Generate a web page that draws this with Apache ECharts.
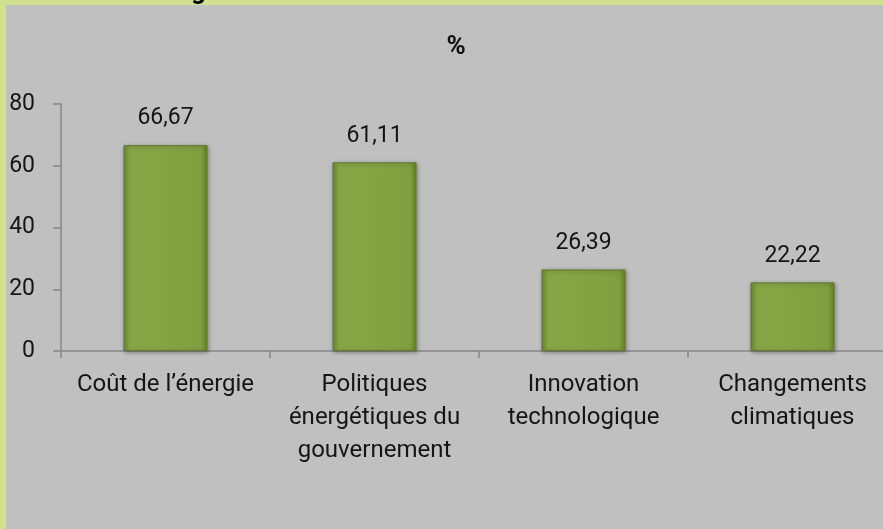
<!DOCTYPE html>
<html>
<head>
<meta charset="utf-8">
<script src="https://cdn.jsdelivr.net/npm/echarts@6/dist/echarts.min.js"></script>
<style>
html,body{margin:0;padding:0;background:#c0c0c0;}
#wrap{width:883px;height:529px;overflow:hidden;position:relative;}
#c{width:910px;height:529px;position:absolute;left:0;top:0;}
</style>
</head>
<body>
<div id="wrap"><div id="c"></div></div>
<script>
const categories = ["Coût de l’énergie", "Politiques\nénergétiques du\ngouvernement", "Innovation\ntechnologique", "Changements\nclimatiques"];
const values = [66.67, 61.11, 26.39, 22.22];
const yTicks = { min: 0, max: 80, interval: 20 };
const titleText = "%";

const FONT = "Roboto, 'Liberation Sans', sans-serif";
const chart = echarts.init(document.getElementById('c'), null, { renderer: 'canvas' });
chart.setOption({
  backgroundColor: '#c0c0c0',
  animation: false,
  title: {
    text: titleText,
    left: 451, top: 29, textAlign: 'center',
    textStyle: { fontFamily: FONT, fontSize: 26, fontWeight: 'bold', color: '#111' }
  },
  grid: { left: 61, top: 104, width: 836, height: 247, containLabel: false },
  xAxis: {
    type: 'category',
    data: categories,
    axisLine: { show: true, lineStyle: { color: '#878787', width: 1.5 } },
    axisTick: { show: true, length: 7, alignWithLabel: false, lineStyle: { color: '#878787', width: 1.5 } },
    axisLabel: {
      interval: 0, margin: 17, color: '#151515',
      fontFamily: FONT, fontSize: 24, lineHeight: 33, align: 'center'
    }
  },
  yAxis: {
    type: 'value',
    min: yTicks.min, max: yTicks.max, interval: yTicks.interval,
    axisLine: { show: true, lineStyle: { color: '#878787', width: 1.5 } },
    axisTick: { show: true, length: 8, lineStyle: { color: '#878787', width: 1.5 } },
    splitLine: { show: false },
    axisLabel: { margin: 26, color: '#151515', fontFamily: FONT, fontSize: 23 }
  },
  series: [{
    type: 'bar',
    data: values,
    barWidth: 84,
    itemStyle: {
      color: {
        type: 'linear', x: 0, y: 0, x2: 1, y2: 0,
        colorStops: [
          { offset: 0, color: '#6f8f32' },
          { offset: 0.08, color: '#86a646' },
          { offset: 0.5, color: '#84a444' },
          { offset: 0.92, color: '#809f40' },
          { offset: 1, color: '#66832b' }
        ]
      },
      borderColor: '#60792c',
      borderWidth: 1,
      shadowColor: 'rgba(0,0,0,0.35)',
      shadowBlur: 4,
      shadowOffsetX: 1,
      shadowOffsetY: 1
    },
    label: {
      show: true, position: 'top', distance: 15,
      color: '#151515', fontFamily: FONT, fontSize: 23,
      formatter: p => p.value.toFixed(2).replace('.', ',')
    }
  }],
  graphic: [
    { type: 'rect', left: 0, top: 0, z: 100, shape: { width: 910, height: 5 }, style: { fill: '#d1e18f' } },
    { type: 'rect', left: 0, top: 0, z: 100, shape: { width: 6, height: 529 }, style: { fill: '#d1e18f' } },
    { type: 'text', x: 191, y: -21, z: 101, style: { text: 'g', fill: '#000', font: "bold 26px " + FONT } }
  ]
});
</script>
</body>
</html>
